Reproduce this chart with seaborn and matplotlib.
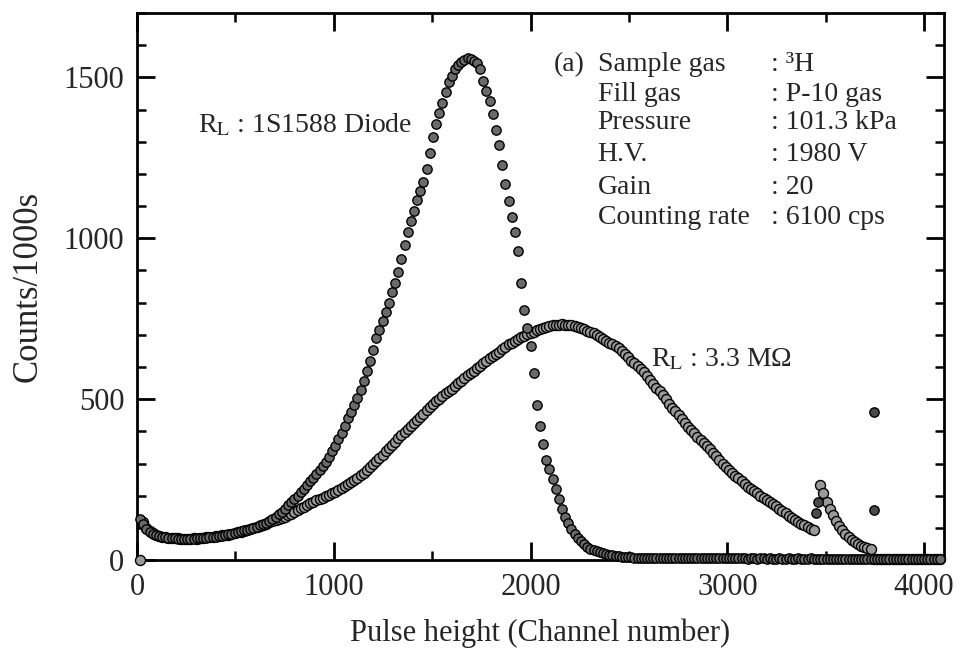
import numpy as np
import pandas as pd
import matplotlib
matplotlib.use("Agg")
import matplotlib.pyplot as plt
import seaborn as sns
from matplotlib.ticker import MultipleLocator

nan = np.nan

# Channel numbers (every 16th MCA channel)
channels = np.arange(0, 4096, 16)

# Counts/1000s, R_L : 1S1588 Diode
diode_counts = [
    nan, 128, 112, 98, 88, 82, 78, 75, 73, 71, 70, 69, 68, 67, 67, 67,
    66, 67, 67, 68, 68, 69, 70, 71, 72, 73, 75, 76, 78, 80, 82, 84,
    87, 89, 92, 95, 98, 101, 104, 108, 112, 116, 121, 127, 134, 142, 151, 160,
    170, 180, 190, 200, 211, 222, 234, 245, 256, 268, 280, 292, 305, 320, 338, 356,
    376, 396, 418, 440, 460, 482, 505, 530, 557, 587, 620, 654, 690, 716, 742, 770,
    800, 833, 862, 895, 935, 980, 1020, 1055, 1085, 1118, 1146, 1176, 1215, 1265, 1315, 1355,
    1390, 1420, 1455, 1485, 1505, 1525, 1538, 1548, 1555, 1560, 1556, 1552, 1545, 1525, 1490, 1458,
    1425, 1385, 1335, 1290, 1228, 1168, 1115, 1065, 1020, 960, 860, 778, 720, 665, 580, 482,
    418, 362, 312, 282, 252, 220, 190, 160, 135, 115, 96, 80, 68, 58, 49, 42,
    36, 31, 27, 24, 21, 19, 17, 15, 13, 12, 11, 10, 9, 9, 8, 8,
    8, 7, 8, 7, 7, 8, 7, 6, 7, 7, 6, 7, 6, 6, 7, 6,
    6, 6, 5, 6, 6, 5, 6, 5, 5, 6, 5, 5, 6, 5, 5, 5,
    5, 5, 4, 5, 5, 4, 5, 5, 4, 5, 4, 4, 5, 4, 4, 5,
    4, 4, 5, 4, 4, 4, 5, 4, 4, 4, 4, 4, 3, 4, 4, 3,
    3, 4, 3, 3, 4, 3, 3, 3, 4, 3, 3, 3, 3, 3, 3, 3,
    3, 3, 3, 3, 3, 3, 3, 3, 3, 3, 3, 3, 3, 3, 3, 3,
]

# Counts/1000s, R_L : 3.3 MOhm
resistor_counts = [
    nan, 0, 118, 100, 90, 83, 79, 76, 73, 71, 70, 69, 68, 68, 67, 66,
    67, 66, 68, 67, 69, 69, 71, 71, 73, 74, 74, 77, 78, 79, 81, 83,
    86, 88, 91, 93, 96, 99, 103, 106, 110, 113, 118, 122, 126, 129, 132, 135,
    139, 144, 150, 155, 161, 166, 171, 176, 181, 186, 190, 194, 198, 203, 208, 213,
    219, 224, 230, 236, 243, 249, 256, 264, 272, 280, 289, 298, 308, 318, 328, 338,
    348, 358, 368, 378, 389, 399, 408, 417, 427, 436, 445, 455, 465, 476, 486, 495,
    502, 510, 518, 525, 531, 540, 549, 557, 566, 574, 582, 589, 597, 604, 611, 619,
    627, 634, 641, 648, 655, 662, 670, 676, 682, 688, 693, 697, 701, 705, 710, 714,
    718, 722, 725, 727, 730, 731, 732, 733, 732, 730, 729, 726, 724, 720, 717, 713,
    710, 706, 700, 694, 688, 682, 676, 670, 665, 658, 650, 640, 630, 620, 612, 603,
    594, 584, 572, 560, 548, 536, 524, 512, 500, 486, 474, 462, 450, 438, 426, 414,
    404, 394, 384, 374, 364, 355, 345, 334, 322, 311, 300, 289, 279, 270, 262, 254,
    246, 237, 228, 221, 214, 207, 200, 194, 187, 181, 174, 167, 160, 152, 145, 138,
    131, 124, 118, 113, 108, 103, 98, 94, nan, 232, 210, 182, 160, 140, 122, 106,
    93, 81, 71, 62, 56, 50, 45, 41, 38, 36, 2, 2, 2, 2, 2, 2,
    2, 2, 2, 2, 2, 2, 2, 2, 2, 2, 2, 2, 2, 2, 2, 2,
]

# Isolated points
extra_channels = [3450, 3462, 3746, 3746]
extra_counts = [146, 180, 460, 155]

info_keys = ["Sample gas", "Fill gas", "Pressure", "H.V.", "Gain", "Counting rate"]
info_vals = [": ³H", ": P-10 gas", ": 101.3 kPa", ": 1980 V", ": 20", ": 6100 cps"]

sns.set_theme(style="ticks")
plt.rcParams["font.family"] = ["Liberation Serif", "DejaVu Serif"]
plt.rcParams["mathtext.fontset"] = "stix"

df_d = pd.DataFrame({"ch": channels, "counts": diode_counts})
df_r = pd.DataFrame({"ch": channels, "counts": resistor_counts})
df_x = pd.DataFrame({"ch": extra_channels, "counts": extra_counts})

fig = plt.figure(figsize=(9.68, 6.66), dpi=100)
ax = fig.add_axes([0.1415, 0.159, 0.8335, 0.8215])

kw = dict(edgecolor="black", linewidth=1.0, legend=False, clip_on=False, zorder=3)
sns.scatterplot(data=df_r, x="ch", y="counts", ax=ax, color="#9a9a9a", s=52, **kw)
sns.scatterplot(data=df_d, x="ch", y="counts", ax=ax, color="#6a6a6a", s=45, **kw)
sns.scatterplot(data=df_x, x="ch", y="counts", ax=ax, color="#4a4a4a", s=45, **kw)

ax.set_xlim(0, 4100)
ax.set_ylim(0, 1700)
ax.xaxis.set_major_locator(MultipleLocator(1000))
ax.xaxis.set_minor_locator(MultipleLocator(500))
ax.yaxis.set_major_locator(MultipleLocator(500))
ax.yaxis.set_minor_locator(MultipleLocator(100))
ax.tick_params(which="both", direction="in", top=True, right=True, color="black")
ax.tick_params(which="major", length=13, width=2, labelsize=22, pad=9)
ax.tick_params(which="minor", length=6.5, width=1.8)
for sp in ax.spines.values():
    sp.set_linewidth(2)
    sp.set_color("black")

ax.set_xlabel("Pulse height (Channel number)", fontsize=22, labelpad=12)
ax.set_ylabel("Counts/1000s", fontsize=25, labelpad=14)

ax.text(310, 1351, r"R$_\mathrm{L}$ : 1S1588 Diode", fontsize=20, va="center", ha="left")
ax.text(2611, 624, r"R$_\mathrm{L}$ : 3.3 MΩ", fontsize=20, va="center", ha="left")

ys = [1539, 1447, 1360, 1261, 1159, 1066]
ax.text(2117, ys[0], "(a)", fontsize=20, va="center", ha="left")
for k, v, yy in zip(info_keys, info_vals, ys):
    ax.text(2341, yy, k, fontsize=20, va="center", ha="left")
    ax.text(3221, yy, v, fontsize=20, va="center", ha="left")

fig.savefig("out.png", dpi=100)
